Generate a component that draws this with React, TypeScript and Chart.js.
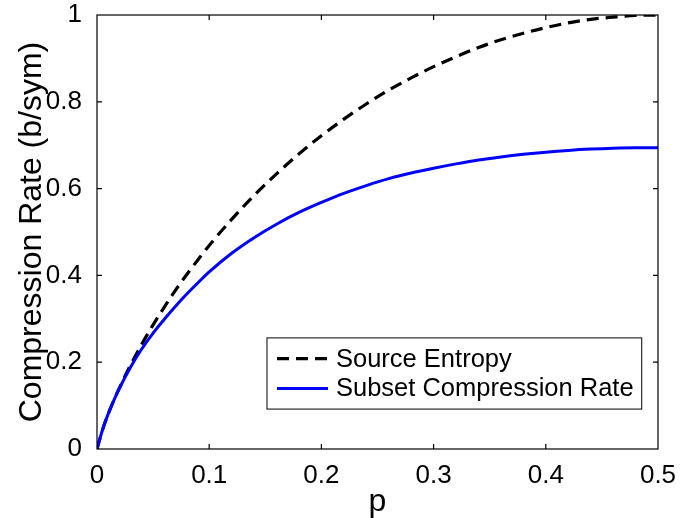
import React, { useEffect, useRef } from "react";
import { Chart, registerables } from "chart.js";

Chart.register(...registerables);

// p values (x axis)
const pValues = [0, 0.005, 0.01, 0.015, 0.02, 0.03, 0.04, 0.05, 0.06, 0.07, 0.08, 0.09, 0.1, 0.12, 0.14, 0.16, 0.18, 0.2, 0.22, 0.24, 0.26, 0.28, 0.3, 0.32, 0.34, 0.36, 0.38, 0.4, 0.42, 0.44, 0.46, 0.48, 0.5];
// Source Entropy (dashed black)
const entropyValues = [0, 0.045, 0.081, 0.112, 0.141, 0.194, 0.242, 0.286, 0.327, 0.366, 0.402, 0.436, 0.469, 0.529, 0.584, 0.634, 0.68, 0.722, 0.76, 0.795, 0.827, 0.855, 0.881, 0.904, 0.925, 0.943, 0.958, 0.971, 0.982, 0.99, 0.995, 0.999, 1.0];
// Subset Compression Rate (solid blue)
const subsetValues = [0, 0.045, 0.081, 0.112, 0.14, 0.189, 0.231, 0.267, 0.299, 0.329, 0.357, 0.383, 0.408, 0.451, 0.487, 0.518, 0.545, 0.568, 0.589, 0.607, 0.623, 0.636, 0.647, 0.657, 0.666, 0.673, 0.679, 0.684, 0.688, 0.691, 0.693, 0.694, 0.694];

const xTicks = [0, 0.1, 0.2, 0.3, 0.4, 0.5];
const yTicks = [0, 0.2, 0.4, 0.6, 0.8, 1];
const seriesLabels = ["Source Entropy", "Subset Compression Rate"];
const xTitle = "p";
const yTitle = "Compression Rate (b/sym)";

const FONT = "'Liberation Sans', Arial, Helvetica, sans-serif";

const fmt = (v: number) => String(Number(v.toFixed(1)));

const framePlugin = {
  id: "frameTicks",
  afterDatasetsDraw(chart: any) {
    const { ctx, chartArea } = chart;
    const { left, right, top, bottom } = chartArea;
    const xs = chart.scales.x;
    const ys = chart.scales.y;
    ctx.save();
    ctx.strokeStyle = "#000";
    ctx.lineWidth = 1.2;
    ctx.strokeRect(left, top, right - left, bottom - top);
    const tl = 5;
    ctx.beginPath();
    xTicks.forEach((v, i) => {
      if (i === 0 || i === xTicks.length - 1) return;
      const px = xs.getPixelForValue(v);
      ctx.moveTo(px, bottom);
      ctx.lineTo(px, bottom - tl);
      ctx.moveTo(px, top);
      ctx.lineTo(px, top + tl);
    });
    yTicks.forEach((v, i) => {
      if (i === 0 || i === yTicks.length - 1) return;
      const py = ys.getPixelForValue(v);
      ctx.moveTo(left, py);
      ctx.lineTo(left + tl, py);
      ctx.moveTo(right, py);
      ctx.lineTo(right - tl, py);
    });
    ctx.stroke();
    ctx.restore();
  },
  afterDraw(chart: any) {
    const { ctx, chartArea } = chart;
    const { left, right, top, bottom } = chartArea;
    const w = right - left;
    const h = bottom - top;
    const bx = left + w * 0.303;
    const by = top + h * 0.744;
    const bw = w * 0.668;
    const bh = h * 0.164;
    ctx.save();
    ctx.fillStyle = "#fff";
    ctx.fillRect(bx, by, bw, bh);
    ctx.strokeStyle = "#000";
    ctx.lineWidth = 1;
    ctx.strokeRect(bx, by, bw, bh);
    ctx.font = `25.5px ${FONT}`;
    ctx.textBaseline = "middle";
    ctx.textAlign = "left";
    chart.data.datasets.forEach((ds: any, i: number) => {
      const cy = by + bh * (0.29 + 0.42 * i);
      ctx.save();
      ctx.strokeStyle = ds.borderColor;
      ctx.lineWidth = ds.borderWidth;
      ctx.setLineDash(ds.borderDash || []);
      ctx.beginPath();
      ctx.moveTo(bx + 10, cy);
      ctx.lineTo(bx + 61, cy);
      ctx.stroke();
      ctx.restore();
      ctx.fillStyle = "#000";
      ctx.fillText(ds.label, bx + 69, cy + 1);
    });
    ctx.restore();
  },
};

export default function App() {
  const canvasRef = useRef<HTMLCanvasElement | null>(null);

  useEffect(() => {
    const canvas = canvasRef.current;
    if (!canvas) return;
    const chart = new Chart(canvas, {
      type: "line",
      data: {
        datasets: [
          {
            label: seriesLabels[0],
            data: pValues.map((p, i) => ({ x: p, y: entropyValues[i] })),
            borderColor: "#000000",
            borderWidth: 3.2,
            borderDash: [12, 7],
            pointRadius: 0,
            cubicInterpolationMode: "monotone",
            fill: false,
            order: 2,
          },
          {
            label: seriesLabels[1],
            data: pValues.map((p, i) => ({ x: p, y: subsetValues[i] })),
            borderColor: "#0000ff",
            borderWidth: 3,
            pointRadius: 0,
            cubicInterpolationMode: "monotone",
            fill: false,
            order: 1,
          },
        ],
      },
      options: {
        responsive: false,
        animation: false,
        layout: { padding: { left: 0, right: 36, top: 15, bottom: 0 } },
        plugins: {
          legend: { display: false },
          tooltip: { enabled: false },
        },
        scales: {
          x: {
            type: "linear",
            min: 0,
            max: 0.5,
            grid: { display: false },
            border: { display: false },
            afterBuildTicks: (scale: any) => {
              scale.ticks = xTicks.map((v) => ({ value: v }));
            },
            afterFit: (scale: any) => {
              scale.height = 69;
              scale.paddingLeft = 0;
              scale.paddingRight = 0;
            },
            ticks: {
              color: "#000",
              font: { family: FONT, size: 26, lineHeight: 1 },
              padding: 6,
              maxRotation: 0,
              autoSkip: false,
              callback: (v: any) => fmt(Number(v)),
            },
            title: {
              display: true,
              text: xTitle,
              color: "#000",
              font: { family: FONT, size: 32, lineHeight: 1 },
              padding: { top: 0, bottom: 0 },
            },
          },
          y: {
            type: "linear",
            min: 0,
            max: 1,
            grid: { display: false },
            border: { display: false },
            afterBuildTicks: (scale: any) => {
              scale.ticks = yTicks.map((v) => ({ value: v }));
            },
            afterFit: (scale: any) => {
              scale.width = 97;
              scale.paddingTop = 0;
              scale.paddingBottom = 0;
            },
            ticks: {
              color: "#000",
              font: { family: FONT, size: 26, lineHeight: 1 },
              padding: 7,
              autoSkip: false,
              callback: (v: any) => fmt(Number(v)),
            },
            title: {
              display: true,
              text: yTitle,
              color: "#000",
              font: { family: FONT, size: 32, lineHeight: 1 },
              padding: { top: 16, bottom: 0 },
            },
          },
        },
      },
      plugins: [framePlugin],
    });
    return () => chart.destroy();
  }, []);

  return (
    <div style={{ position: "absolute", left: 0, top: 0, width: 694, height: 518, background: "#fff" }}>
      <canvas ref={canvasRef} width={694} height={518} style={{ display: "block", width: 694, height: 518 }} />
    </div>
  );
}
